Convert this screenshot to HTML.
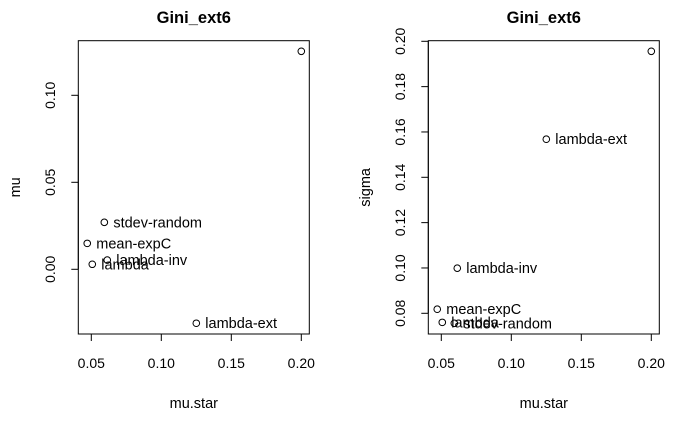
<!DOCTYPE html>
<html><head><meta charset="utf-8"><style>
body{margin:0;background:#fff}
svg{display:block;font-family:"Liberation Sans",Arial,sans-serif}
</style></head><body>
<svg id="c" width="700" height="432"></svg>
<script>
const labels=["","stdev-random","mean-expC","lambda-inv","lambda","lambda-ext"];
const muStar=[0.200,0.0593,0.0471,0.0614,0.0507,0.125];
const mu=[0.1253,0.0270,0.0149,0.0053,0.0029,-0.0310];
const sigma=[0.1956,0.0756,0.0818,0.0999,0.0760,0.1568];
const xTicks=[0.05,0.10,0.15,0.20];
const muTicks=[0.00,0.05,0.10];
const sigmaTicks=[0.08,0.10,0.12,0.14,0.16,0.18,0.20];
const NS="http://www.w3.org/2000/svg";
const svg=document.getElementById('c');
function mk(tag,attrs,parent){const e=document.createElementNS(NS,tag);for(const k in attrs)e.setAttribute(k,attrs[k]);(parent||svg).appendChild(e);return e;}
function panel(off,ys,yTicks,yFn,ylab,pname){
  const g=mk('g',{});
  
  
  const xFn=v=>off+91.3+(v-0.05)*1400;
  const L=off+78.3,R=off+309.3,T=40.7,B=334;
  const box=mk('rect',{x:L,y:T,width:R-L,height:B-T,fill:'none',stroke:'#000','stroke-width':1},g);
  
  
  const t=mk('text',{x:(L+R)/2,y:23,'text-anchor':'middle','font-size':'16.5px','font-weight':'bold'},g);
  t.textContent='Gini_ext6';
  
  
  mk('line',{x1:xFn(xTicks[0]),x2:xFn(xTicks[xTicks.length-1]),y1:B,y2:B,stroke:'#000'},g);
  xTicks.forEach(v=>{
    const x=xFn(v);
    mk('line',{x1:x,x2:x,y1:B,y2:B+7,stroke:'#000'},g);
    const tx=mk('text',{x:x,y:368,'text-anchor':'middle','font-size':'14px'},g);
    tx.textContent=v.toFixed(2);
    
    
  });
  mk('line',{x1:L,x2:L,y1:yFn(yTicks[0]),y2:yFn(yTicks[yTicks.length-1]),stroke:'#000'},g);
  yTicks.forEach(v=>{
    const y=yFn(v);
    mk('line',{x1:L-7,x2:L,y1:y,y2:y,stroke:'#000'},g);
    const ty=mk('text',{x:0,y:0,'text-anchor':'middle','font-size':'14px',transform:`translate(${off+55},${y}) rotate(-90)`},g);
    ty.textContent=v.toFixed(2);
    
    
  });
  const xl=mk('text',{x:(L+R)/2,y:408,'text-anchor':'middle','font-size':'14.5px'},g);
  xl.textContent='mu.star';
  
  
  const yl=mk('text',{x:0,y:0,'text-anchor':'middle','font-size':'14.5px',transform:`translate(${off+20},${(T+B)/2}) rotate(-90)`},g);
  yl.textContent=ylab;
  
  
  muStar.forEach((m,i)=>{
    const x=xFn(m),y=yFn(ys[i]);
    const c=mk('circle',{cx:x,cy:y,r:3.3,fill:'none',stroke:'#000','stroke-width':1},g);
    
    
    if(labels[i]){
      const lt=mk('text',{x:x+9,y:y+5,'font-size':'14.5px'},g);
      lt.textContent=labels[i];
      
      
    }
  });
}
panel(0,mu,muTicks,v=>269.3-v*1740,'mu','mu-panel');
panel(350,sigma,sigmaTicks,v=>313.3-(v-0.08)*2266.7,'sigma','sigma-panel');
</script>
</body></html>
